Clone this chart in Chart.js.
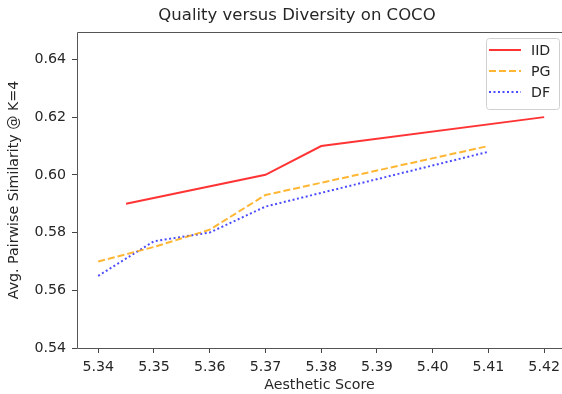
<!DOCTYPE html>
<html>
<head>
<meta charset="utf-8">
<script src="https://cdn.jsdelivr.net/npm/chart.js@4"></script>
<style>
  html, body { margin: 0; padding: 0; overflow: hidden; background: #fff; }
  #chart { display: block; }
</style>
</head>
<body>
<canvas id="chart" width="562" height="394" style="width:562px;height:394px"></canvas>
<script>
// ================= DATA =================
const iidX = [5.345, 5.37, 5.38, 5.42];
const iidY = [0.590, 0.600, 0.610, 0.620];

const pgX = [5.34, 5.35, 5.36, 5.37, 5.41];
const pgY = [0.570, 0.575, 0.581, 0.593, 0.610];

const dfX = [5.34, 5.35, 5.36, 5.37, 5.41];
const dfY = [0.565, 0.577, 0.580, 0.589, 0.608];

const xTicks = [5.34, 5.35, 5.36, 5.37, 5.38, 5.39, 5.40, 5.41, 5.42];
const yTicks = [0.54, 0.56, 0.58, 0.60, 0.62, 0.64];

const TITLE = "Quality versus Diversity on COCO";
const FONT = "'DejaVu Sans', sans-serif";
const TEXT = "#262626";
const FS = 14.2;

function toPoints(xs, ys) {
  return xs.map((x, i) => ({ x: x, y: ys[i] }));
}

// ================= PLUGINS =================
// left, top and bottom spines (right spine falls outside the picture)
const framePlugin = {
  id: "frame",
  afterDraw(chart) {
    const a = chart.chartArea;
    const ctx = chart.ctx;
    const l = Math.round(a.left) + 0.5, t = Math.round(a.top) + 0.5, b = Math.round(a.bottom) + 0.5;
    ctx.save();
    ctx.strokeStyle = "#555";
    ctx.lineWidth = 1;
    ctx.beginPath();
    ctx.moveTo(chart.width, t);
    ctx.lineTo(l, t);
    ctx.lineTo(l, b);
    ctx.lineTo(chart.width, b);
    ctx.stroke();

    // title, centred like the original
    ctx.fillStyle = TEXT;
    ctx.font = "16.5px " + FONT;
    ctx.textAlign = "center";
    ctx.textBaseline = "middle";
    ctx.fillText(TITLE, 297, 16);
    ctx.restore();
  }
};

// matplotlib-like legend box in the upper right
const legendBox = {
  id: "legendBox",
  afterDraw(chart) {
    const a = chart.chartArea;
    const ctx = chart.ctx;
    const w = 73, h = 71;
    const x = 486, y = a.top + 6;
    ctx.save();
    ctx.beginPath();
    ctx.roundRect(x + 0.5, y + 0.5, w, h, 3);
    ctx.fillStyle = "rgba(255,255,255,0.8)";
    ctx.fill();
    ctx.strokeStyle = "#d0d0d0";
    ctx.lineWidth = 1;
    ctx.stroke();

    ctx.font = FS + "px " + FONT;
    ctx.textBaseline = "middle";
    chart.data.datasets.forEach((ds, i) => {
      const cy = y + 12 + i * 21;
      ctx.beginPath();
      ctx.setLineDash(ds.borderDash || []);
      ctx.strokeStyle = ds.borderColor;
      ctx.lineWidth = ds.borderWidth;
      ctx.lineCap = "butt";
      ctx.moveTo(x + 3, cy);
      ctx.lineTo(x + 35, cy);
      ctx.stroke();
      ctx.setLineDash([]);
      ctx.fillStyle = TEXT;
      ctx.fillText(ds.label, x + 45, cy + 1);
    });
    ctx.restore();
  }
};

// ================= CHART =================
const ctx = document.getElementById("chart").getContext("2d");

new Chart(ctx, {
  type: "line",
  data: {
    datasets: [
      {
        label: "IID",
        data: toPoints(iidX, iidY),
        borderColor: "rgba(255,0,0,0.8)",
        borderWidth: 2,
        pointRadius: 0,
        tension: 0,
        fill: false
      },
      {
        label: "PG",
        data: toPoints(pgX, pgY),
        borderColor: "rgba(255,165,0,0.8)",
        borderWidth: 2,
        borderDash: [7, 3],
        pointRadius: 0,
        tension: 0,
        fill: false
      },
      {
        label: "DF",
        data: toPoints(dfX, dfY),
        borderColor: "rgba(0,0,255,0.7)",
        borderWidth: 2,
        borderDash: [2, 2.5],
        pointRadius: 0,
        tension: 0,
        fill: false
      }
    ]
  },
  options: {
    responsive: false,
    animation: false,
    layout: { padding: { top: 32 } },
    plugins: {
      legend: { display: false },
      tooltip: { enabled: false },
      title: { display: false }
    },
    scales: {
      x: {
        type: "linear",
        min: 5.3362,
        max: 5.4232,
        afterBuildTicks: s => { s.ticks = xTicks.map(v => ({ value: v })); },
        afterFit: s => { s.height = 46; s.paddingLeft = 0; s.paddingRight = 0; },
        grid: { drawOnChartArea: false, drawTicks: true, tickLength: 5, color: "#444" },
        border: { display: false },
        ticks: {
          color: TEXT,
          font: { family: FONT, size: FS },
          padding: 6,
          maxRotation: 0,
          callback: v => v.toFixed(2)
        },
        title: {
          display: true,
          text: "Aesthetic Score",
          color: TEXT,
          font: { family: FONT, size: FS },
          padding: { top: 0, bottom: 0 }
        }
      },
      y: {
        type: "linear",
        min: 0.54,
        max: 0.6495,
        afterBuildTicks: s => { s.ticks = yTicks.map(v => ({ value: v })); },
        afterFit: s => { s.width = 77; },
        grid: { drawOnChartArea: false, drawTicks: true, tickLength: 5, color: "#444" },
        border: { display: false },
        ticks: {
          color: TEXT,
          font: { family: FONT, size: FS },
          padding: 6,
          callback: v => v.toFixed(2)
        },
        title: {
          display: true,
          text: "Avg. Pairwise Similarity @ K=4",
          color: TEXT,
          font: { family: FONT, size: FS },
          padding: { top: 6, bottom: 0 }
        }
      }
    }
  },
  plugins: [framePlugin, legendBox]
});
</script>
</body>
</html>
